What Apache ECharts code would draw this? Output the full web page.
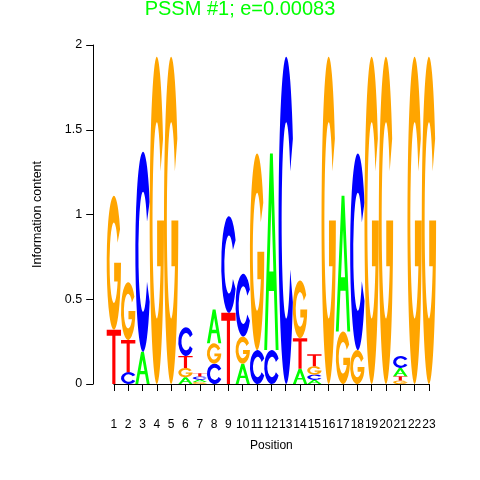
<!DOCTYPE html>
<html>
<head>
<meta charset="utf-8">
<script src="https://cdn.jsdelivr.net/npm/echarts@6/dist/echarts.min.js"></script>
<style>html,body{margin:0;padding:0;background:#fff;}#c{width:480px;height:480px;}</style>
</head>
<body>
<div id="c"></div>
<script>
// Data: information content per letter at each position (1..23)
var positions = [1,2,3,4,5,6,7,8,9,10,11,12,13,14,15,16,17,18,19,20,21,22,23];
var letterA = [0,    0,    0.19, 0,    0,    0.04,  0.014, 0.20, 0,    0.12, 0,    1.16, 0,    0.09, 0.025, 0,    0.80, 0,    0,    0,    0.05,  0,    0];
var letterC = [0,    0.07, 1.18, 0,    0,    0.17,  0.018, 0.12, 0.57, 0.37, 0.20, 0.20, 1.93, 0,    0.03,  0,    0,    1.16, 0,    0,    0.07,  0,    0];
var letterG = [0.79, 0.34, 0,    1.93, 1.93, 0.055, 0.012, 0.12, 0,    0.16, 1.16, 0,    0,    0.34, 0.05,  1.93, 0.31, 0.20, 1.93, 1.93, 0.02,  1.93, 1.93];
var letterT = [0.32, 0.19, 0,    0,    0,    0.07,  0.02,  0,    0.42, 0,    0,    0,    0,    0.18, 0.07,  0,    0,    0,    0,    0,    0.025, 0,    0];
var yTicks = [0, 0.5, 1, 1.5, 2];
var titleText = 'PSSM #1; e=0.00083';

var LETTERS = ['A','C','G','T'];
var COLORS = ['#00FF00','#0000FF','#FFA500','#FF0000'];
var PATHS = [
  'M0 100 L40 0 L60 0 L100 100 L80 100 L68 70 L32 70 L20 100 Z M36 60 L64 60 L50 25 Z',
  'M93.3 25 A50 50 0 1 0 93.3 75 L75.98 65 A30 30 0 1 1 75.98 35 Z',
  'M93.3 25 A50 50 0 1 0 100 50 L52 50 L52 64 L76.5 64 A30 30 0 1 1 75.98 35 Z',
  'M0 0 L100 0 L100 11 L61 11 L61 100 L39 100 L39 11 L0 11 Z'
];

var table = [letterA, letterC, letterG, letterT];
var stackData = [];
positions.forEach(function(p, i){
  var items = [];
  for (var k = 0; k < 4; k++) { if (table[k][i] > 0) items.push({k:k, v:table[k][i]}); }
  items.sort(function(a,b){ return a.v - b.v; });
  var base = 0;
  items.forEach(function(it){
    stackData.push([p, base, base + it.v, it.k]);
    base += it.v;
  });
});

var FONT = '"Liberation Sans", Arial, Helvetica, sans-serif';
var chart = echarts.init(document.getElementById('c'), null, {renderer:'canvas'});
chart.setOption({
  backgroundColor: '#fff',
  animation: false,
  title: {
    text: titleText, left: 'center', top: -1, padding: 0,
    textStyle: {color: '#00FF00', fontSize: 20, fontWeight: 'normal', fontFamily: FONT}
  },
  grid: [
    {left: 106.7, right: 480 - 436.1, top: 45, bottom: 96},
    {left: 113.86, right: 480 - 428.9, top: 45, bottom: 96}
  ],
  xAxis: [
    {gridIndex: 0, type: 'value', min: 0.5, max: 23.5, show: false},
    {gridIndex: 1, type: 'value', min: 1, max: 23, interval: 1, position: 'bottom', offset: 15,
     axisLine: {show: true, lineStyle: {color: '#000', width: 1}},
     axisTick: {show: true, length: 7, lineStyle: {color: '#000'}},
     axisLabel: {show: true, margin: 20, color: '#000', fontSize: 12, fontFamily: FONT, hideOverlap: false, showMinLabel: true, showMaxLabel: true},
     splitLine: {show: false},
     name: 'Position', nameLocation: 'middle', nameGap: 41,
     nameTextStyle: {color: '#000', fontSize: 12, fontFamily: FONT}}
  ],
  yAxis: [
    {gridIndex: 0, type: 'value', min: 0, max: 2, interval: 0.5, position: 'left', offset: 13.5,
     axisLine: {show: true, lineStyle: {color: '#000', width: 1}},
     axisTick: {show: true, length: 7, lineStyle: {color: '#000'}},
     axisLabel: {show: true, margin: 11, color: '#000', fontSize: 12.5, fontFamily: FONT,
       formatter: function(v){ return yTicks.indexOf(v) >= 0 ? String(v) : ''; }},
     splitLine: {show: false},
     name: 'Information content', nameLocation: 'middle', nameGap: 49, nameRotate: 90,
     nameTextStyle: {color: '#000', fontSize: 12.5, fontFamily: FONT}},
    {gridIndex: 1, type: 'value', min: 0, max: 2, show: false}
  ],
  series: [{
    type: 'custom',
    xAxisIndex: 0, yAxisIndex: 0,
    data: stackData,
    encode: {x: 0, y: [1, 2]},
    renderItem: function(params, api){
      var pos = api.value(0), y0 = api.value(1), y1 = api.value(2), li = api.value(3);
      var p1 = api.coord([pos - 0.5, y1]);
      var p2 = api.coord([pos + 0.5, y0]);
      return {
        type: 'path',
        shape: {pathData: PATHS[li], x: p1[0], y: p1[1], width: p2[0] - p1[0], height: p2[1] - p1[1], layout: 'cover'},
        style: {fill: COLORS[li], stroke: null}
      };
    }
  }]
});
</script>
</body>
</html>
